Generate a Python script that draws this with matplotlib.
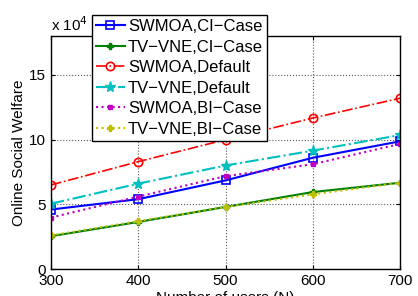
import matplotlib
matplotlib.use("Agg")
import matplotlib.pyplot as plt
from matplotlib.ticker import FuncFormatter

plt.rcParams['font.family'] = ['Liberation Sans', 'DejaVu Sans']

users = [300, 400, 500, 600, 700]
swmoa_ci = [46000, 54000, 68500, 86000, 98700]
tvvne_ci = [25400, 36400, 48000, 59500, 66700]
swmoa_def = [65000, 83000, 100000, 116700, 132000]
tvvne_def = [50500, 66000, 80000, 91500, 103500]
swmoa_bi = [39800, 56000, 71800, 81000, 96700]
tvvne_bi = [26000, 37000, 48000, 57700, 66700]

labels = ["SWMOA,CI\u2212Case", "TV\u2212VNE,CI\u2212Case", "SWMOA,Default",
          "TV\u2212VNE,Default", "SWMOA,BI\u2212Case", "TV\u2212VNE,BI\u2212Case"]

fig = plt.figure(figsize=(4.18, 2.96), dpi=100)
ax = fig.add_axes([0.122, 0.091, 0.835, 0.787])

ax.plot(users, swmoa_ci, color=(0, 0, 1), ls='-', lw=1.5, marker='s', ms=6, mfc='none', mew=1.2, label=labels[0])
ax.plot(users, tvvne_ci, color=(0, 0.5, 0), ls='-', lw=1.5, marker='P', ms=4, label=labels[1])
ax.plot(users, swmoa_def, color=(1, 0, 0), ls='-.', lw=1.2, marker='o', ms=6, mfc='none', mew=1.2, label=labels[2])
ax.plot(users, tvvne_def, color=(0, 0.75, 0.75), ls='-.', lw=1.5, marker='*', ms=8, label=labels[3])
ax.plot(users, swmoa_bi, color=(0.75, 0, 0.75), ls=':', lw=1.5, marker='s', ms=3, label=labels[4])
ax.plot(users, tvvne_bi, color=(0.75, 0.75, 0), ls=':', lw=1.5, marker='P', ms=5, label=labels[5])

ax.set_xlim(300, 700)
ax.set_ylim(0, 180000)
ax.set_xticks(users)
ax.set_yticks([0, 50000, 100000, 150000])
ax.yaxis.set_major_formatter(FuncFormatter(lambda v, p: f"{v/1e4:g}"))
ax.grid(True, ls=':', color='0.35', lw=0.8)
ax.tick_params(direction='in', labelsize=11, length=3, top=True, right=True)
for s in ax.spines.values():
    s.set_linewidth(1.0)

ax.text(0.0, 1.01, r"x 10$^4$", transform=ax.transAxes, fontsize=11, ha='left', va='bottom')
ax.set_xlabel("Number of users (N)", fontsize=11, labelpad=2)
ax.set_ylabel("Online Social Welfare", fontsize=11, labelpad=2)

leg = fig.legend(loc='upper left', bbox_to_anchor=(92 / 418, 1 - 15 / 296), fontsize=12,
                 frameon=True, fancybox=False, edgecolor='black', framealpha=1,
                 borderaxespad=0, handlelength=1.7, labelspacing=0.33, borderpad=0.25,
                 handletextpad=0.2)
leg.get_frame().set_linewidth(1.0)

fig.savefig("out.png", dpi=100)
